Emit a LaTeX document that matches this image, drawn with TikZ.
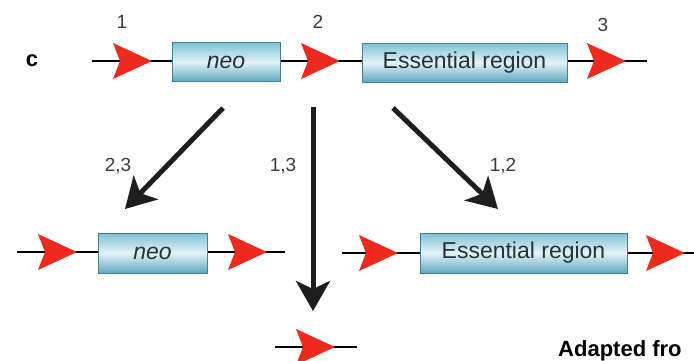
\documentclass[tikz,border=0pt]{standalone}
\usepackage{fontspec}
\setmainfont{Liberation Sans}
\usetikzlibrary{arrows.meta}
\definecolor{sitered}{HTML}{EE2A1E}
\definecolor{boxedge}{HTML}{3F8299}
\definecolor{boxtop}{HTML}{7EC1D3}
\definecolor{boxmid}{HTML}{E2F2F7}
\definecolor{boxbot}{HTML}{5EA8BE}
\definecolor{labelgray}{HTML}{3A3A3A}
\definecolor{boxtext}{HTML}{26323A}
\definecolor{arrowblack}{HTML}{1E1E1E}
\begin{document}
\begin{tikzpicture}[x=1pt,y=-1pt,
  dna/.style={line width=2.8pt, black},
  gene/.style={draw=boxedge, line width=0.8pt, top color=boxtop, bottom color=boxbot, middle color=boxmid,
    minimum height=39pt, inner sep=0pt, text=boxtext, font=\fontsize{23}{23}\selectfont},
  num/.style={text=labelgray, font=\fontsize{19}{19}\selectfont, inner sep=0pt},
  bigarrow/.style={line width=5pt, arrowblack, -{Stealth[length=30pt,width=34pt,inset=8pt]}},
  site/.pic={\fill[sitered] (0,0) -- (-39,-18) -- (-32,0) -- (-39,18) -- cycle;}
]
\useasboundingbox (0,0) rectangle (694,360);
\clip (0,0) rectangle (694,360);

% panel letter
\node[font=\bfseries\fontsize{22}{22}\selectfont, inner sep=0pt] (panel) at (32,61) {c};

% top construct
\coordinate (t0) at (92,61);
\coordinate (t1) at (647,61);
\draw[dna] (t0) -- (t1);
\node[gene, minimum width=108pt] (neoT) at (226,62) {\itshape neo};
\node[gene, minimum width=205pt] (essT) at (464.5,62.5) {Essential region};
\pic at (152,61) {site};
\pic at (340,61) {site};
\pic at (626,61) {site};
\node[num] (n1) at (122,22) {1};
\node[num] (n2) at (318,22) {2};
\node[num] (n3) at (603,25) {3};

% recombination arrows
\coordinate (a1s) at (223,108);
\coordinate (a1e) at (125,209);
\coordinate (a2s) at (313,107);
\coordinate (a2e) at (313,311);
\coordinate (a3s) at (393,108);
\coordinate (a3e) at (498,209);
\draw[bigarrow] (a1s) -- (a1e);
\draw[bigarrow] (a2s) -- (a2e);
\draw[bigarrow] (a3s) -- (a3e);
\node[num] (l23) at (118,166) {2,3};
\node[num] (l13) at (283,166) {1,3};
\node[num] (l12) at (503,166) {1,2};

% bottom left product
\coordinate (b0) at (17,252);
\coordinate (b1) at (285,252);
\draw[dna] (b0) -- (b1);
\node[gene, minimum width=109pt, minimum height=40pt] (neoB) at (152.5,253) {\itshape neo};
\pic at (77,252) {site};
\pic at (267,252) {site};

% bottom right product
\coordinate (c0) at (342,253);
\coordinate (c1) at (694,253);
\draw[dna] (c0) -- (c1);
\node[gene, minimum width=207pt, minimum height=40pt] (essB) at (523.5,253) {Essential region};
\pic at (398,253) {site};
\pic at (685,253) {site};

% small product
\coordinate (d0) at (275,347);
\coordinate (d1) at (357,347);
\draw[dna] (d0) -- (d1);
\pic at (335,347) {site};

% credit
\node[anchor=base west, font=\bfseries\fontsize{22}{22}\selectfont, inner sep=0pt] (credit) at (558,356) {Adapted fro};
\end{tikzpicture}
\end{document}
